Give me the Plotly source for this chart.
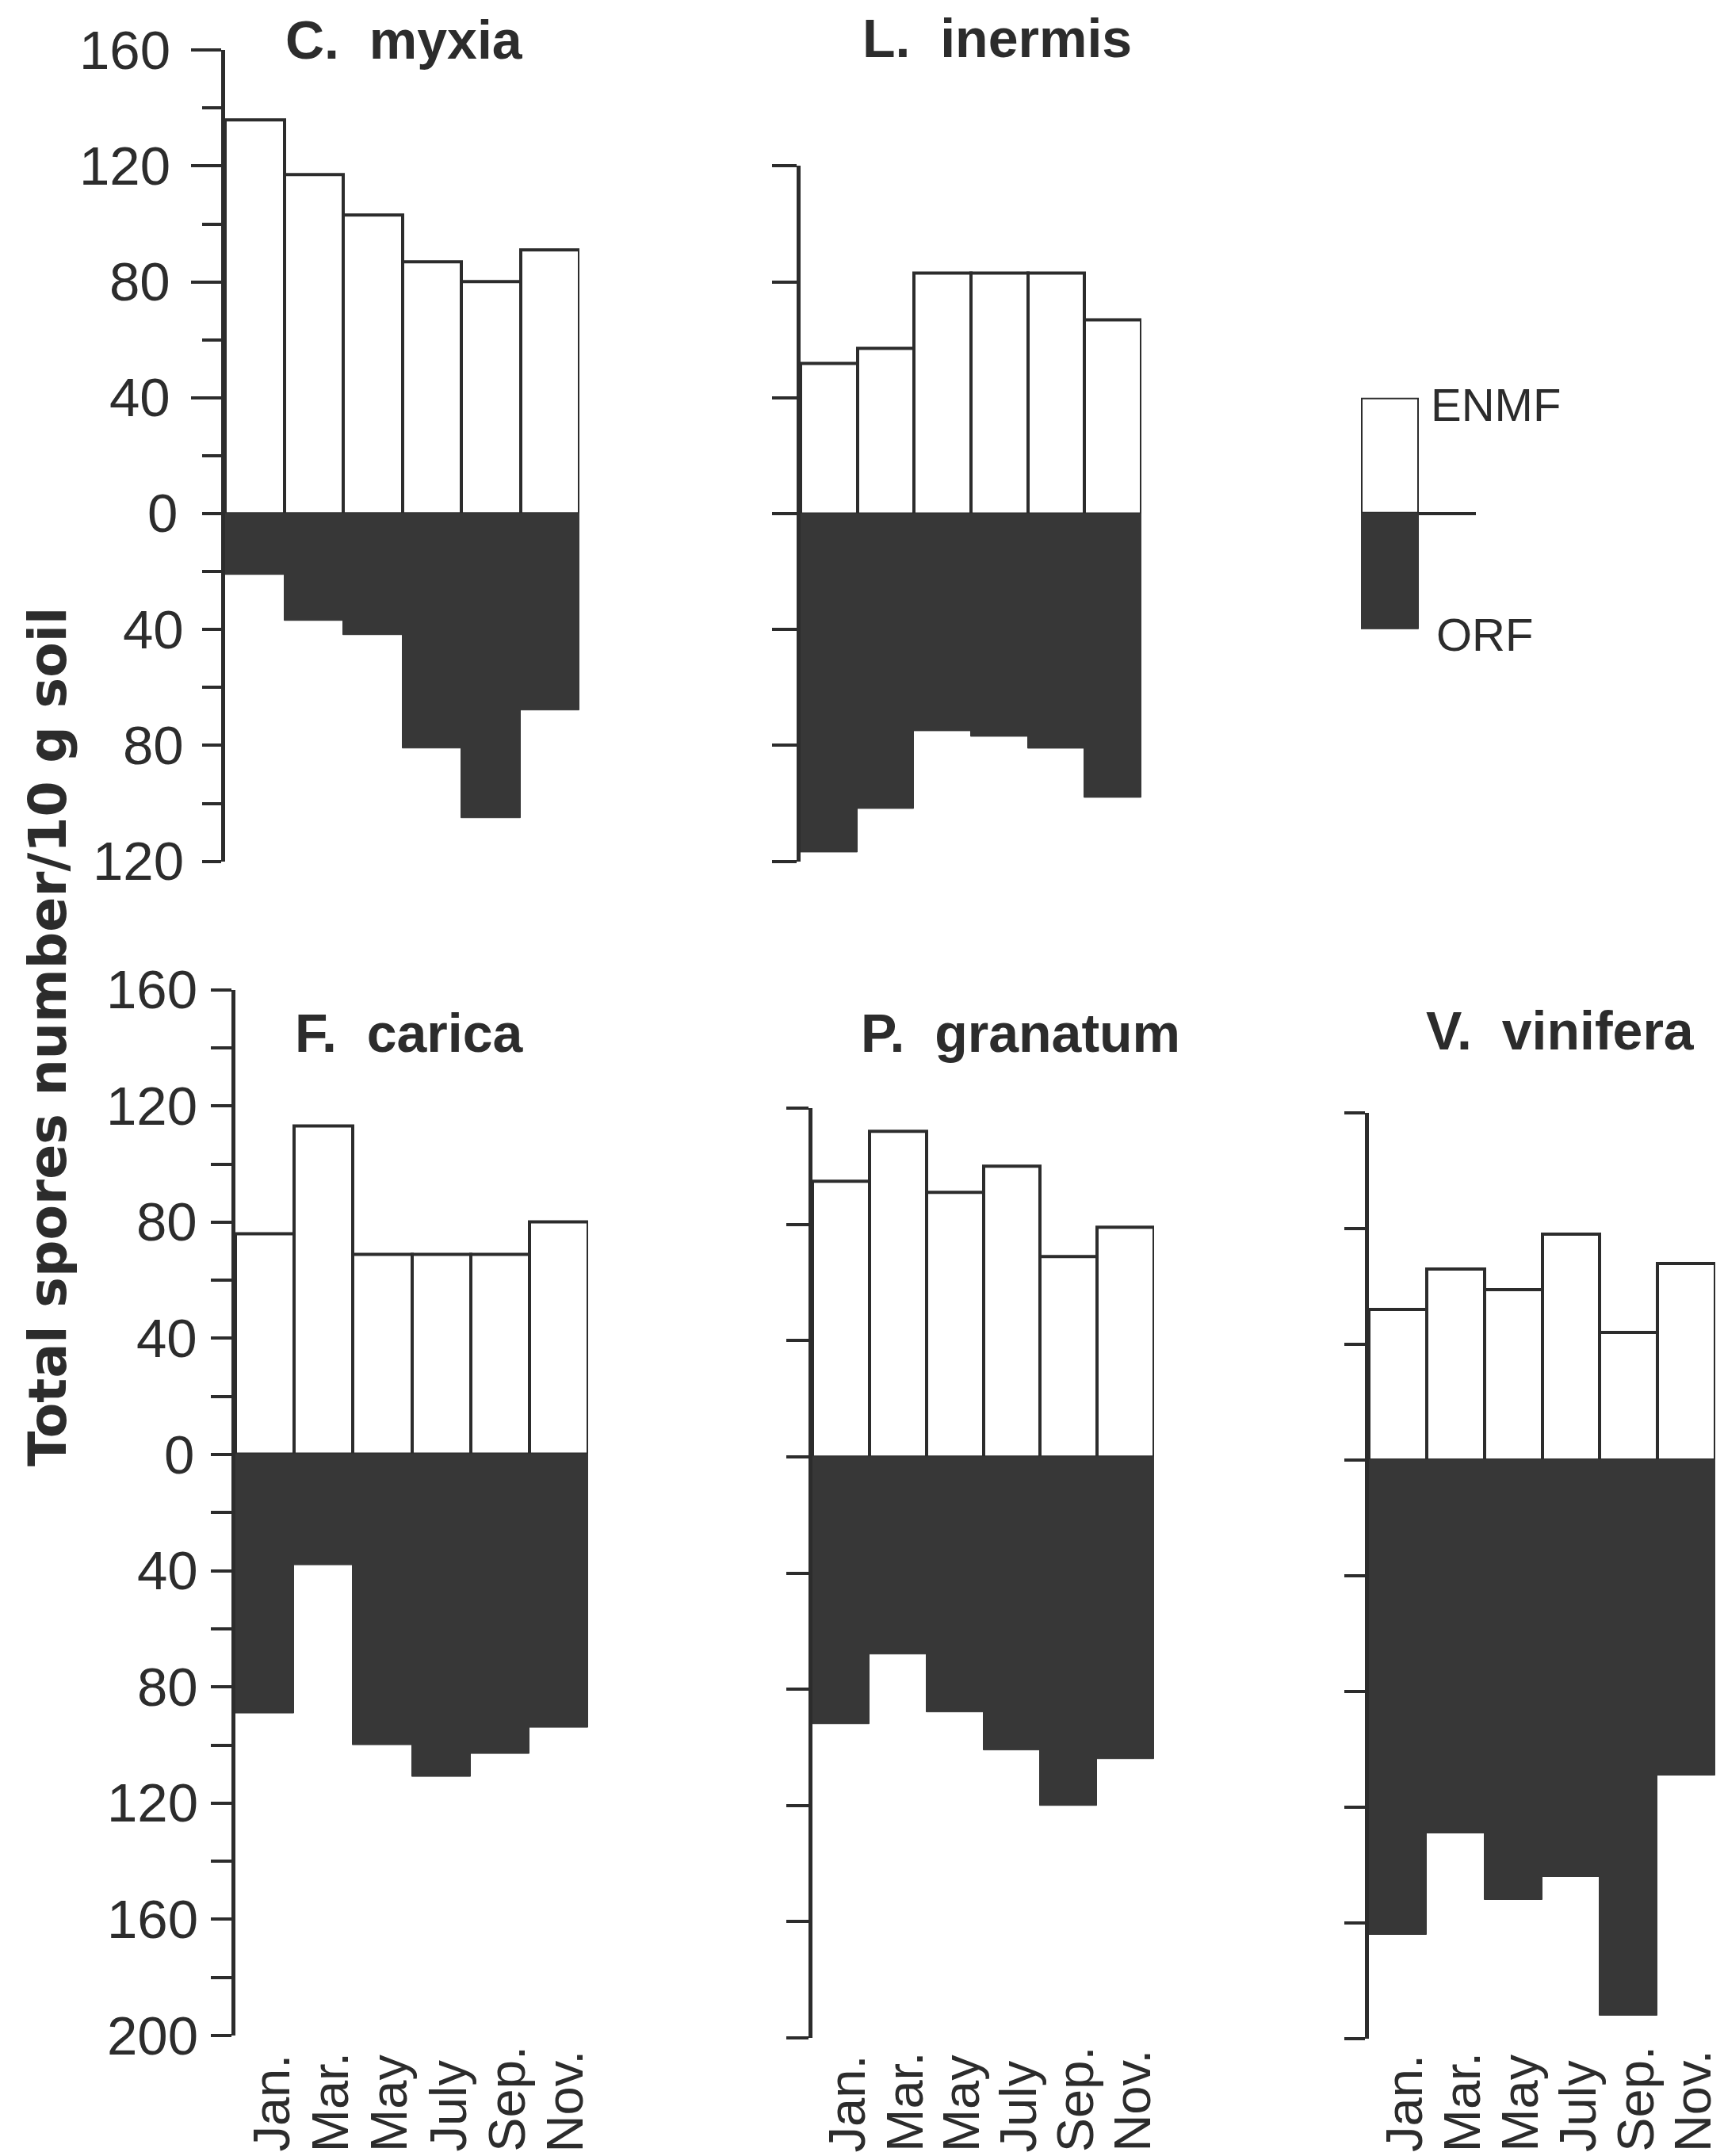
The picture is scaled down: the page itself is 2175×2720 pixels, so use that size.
import plotly.graph_objects as go

W, H = 2175, 2720

# ---------------- data ----------------
MONTHS = ["Jan.", "Mar.", "May", "July", "Sep.", "Nov."]
SPECIES = ["C. myxia", "L. inermis", "F. carica", "P. granatum", "V. vinifera"]

ENMF_C_MYXIA = [136, 117, 103, 87, 80, 91]
ORF_C_MYXIA = [21, 37, 42, 81, 105, 68]

ENMF_L_INERMIS = [52, 57, 83, 83, 83, 67]
ORF_L_INERMIS = [117, 102, 75, 77, 81, 98]

ENMF_F_CARICA = [76, 113, 69, 69, 69, 80]
ORF_F_CARICA = [89, 38, 100, 111, 103, 94]

ENMF_P_GRANATUM = [95, 112, 91, 100, 69, 79]
ORF_P_GRANATUM = [92, 68, 88, 101, 120, 104]

ENMF_V_VINIFERA = [52, 66, 59, 78, 44, 68]
ORF_V_VINIFERA = [164, 129, 152, 144, 192, 109]

LEGEND_LABELS = ["ENMF", "ORF"]
Y_TITLE = "Total spores number/10 g soil"

# ---------------- style ----------------
INK = "#2c2c2c"
FILL = "#373737"
NUM_FONT = "Liberation Sans, Arial, sans-serif"
TITLE_FONT = "Liberation Sans, Arial, sans-serif"


def fx(px):
    return px / W


def fy(py):
    return 1 - py / H


# layout of each panel (pixel geometry)
panels = [
    dict(title=SPECIES[0], enmf=ENMF_C_MYXIA, orf=ORF_C_MYXIA, x0=284, x1=731,
         yzero=648, scale=3.655, ymin=-120, ymax=160,
         long_ticks=[40, 80, 120, 160], long_len=38, short_len=24,
         labels=True, lab_pos=217, lab_zero=226, lab_neg=234,
         tx=510, ty=50, months=False),
    dict(title=SPECIES[1], enmf=ENMF_L_INERMIS, orf=ORF_L_INERMIS, x0=1010, x1=1440,
         yzero=648, scale=3.655, ymin=-120, ymax=120,
         long_ticks=None, long_len=31, short_len=0,
         labels=False, tx=1258, ty=48, months=False),
    dict(title=SPECIES[2], enmf=ENMF_F_CARICA, orf=ORF_F_CARICA, x0=297, x1=742,
         yzero=1835, scale=3.665, ymin=-200, ymax=160,
         long_ticks="all20", long_len=26, short_len=0,
         labels=True, lab_pos=251, lab_zero=247, lab_neg=252,
         tx=516, ty=1303, months=True),
    dict(title=SPECIES[3], enmf=ENMF_P_GRANATUM, orf=ORF_P_GRANATUM, x0=1025, x1=1456,
         yzero=1838, scale=3.665, ymin=-200, ymax=120,
         long_ticks=None, long_len=28, short_len=0,
         labels=False, tx=1287, ty=1303, months=True),
    dict(title=SPECIES[4], enmf=ENMF_V_VINIFERA, orf=ORF_V_VINIFERA, x0=1727, x1=2164,
         yzero=1842, scale=3.65, ymin=-200, ymax=120,
         long_ticks=None, long_len=26, short_len=0,
         labels=False, tx=1968, ty=1300, months=True),
]

fig = go.Figure()
annotations = []
layout = {}

for i, p in enumerate(panels, start=1):
    xa = "x" if i == 1 else f"x{i}"
    ya = "y" if i == 1 else f"y{i}"
    xk = "xaxis" if i == 1 else f"xaxis{i}"
    yk = "yaxis" if i == 1 else f"yaxis{i}"

    fig.add_trace(go.Bar(x=MONTHS, y=p["enmf"], xaxis=xa, yaxis=ya,
                         marker=dict(color="white", line=dict(color=INK, width=4)),
                         width=1, showlegend=False, hoverinfo="skip"))
    fig.add_trace(go.Bar(x=MONTHS, y=[-v for v in p["orf"]], xaxis=xa, yaxis=ya,
                         marker=dict(color=FILL, line=dict(color=FILL, width=1)),
                         width=1, showlegend=False, hoverinfo="skip"))

    top = p["yzero"] - p["ymax"] * p["scale"]
    bot = p["yzero"] - p["ymin"] * p["scale"]
    step40 = list(range(p["ymin"], p["ymax"] + 1, 40))
    step20 = list(range(p["ymin"], p["ymax"] + 1, 20))
    if p["long_ticks"] is None:
        major, minor = step40, []
    elif p["long_ticks"] == "all20":
        major, minor = step20, []
    else:
        major = p["long_ticks"]
        minor = [v for v in step20 if v not in major]

    yaxis = dict(
        domain=[fy(bot), fy(top)], range=[p["ymin"], p["ymax"]], anchor=xa,
        automargin=False,
        showline=True, linecolor=INK, linewidth=5, showgrid=False, zeroline=False,
        ticks="outside", ticklen=p["long_len"], tickwidth=4, tickcolor=INK,
        tickmode="array", tickvals=major, showticklabels=False,
    )
    if minor:
        yaxis["minor"] = dict(tickmode="array", tickvals=minor,
                              ticks="outside", ticklen=p["short_len"], tickwidth=4,
                              tickcolor=INK, showgrid=False)
    layout[yk] = yaxis
    layout[xk] = dict(domain=[fx(p["x0"]), fx(p["x1"])], range=[-0.5, 5.5], anchor=ya,
                      automargin=False, type="category", showline=False, showgrid=False,
                      zeroline=False, ticks="", showticklabels=False)

    # tick labels (absolute values, as in the original)
    if p["labels"]:
        for v in step40:
            xr = p["lab_pos"] if v > 0 else (p["lab_zero"] if v == 0 else p["lab_neg"])
            annotations.append(dict(text=str(abs(v)), x=fx(xr), y=v, xref="paper", yref=ya,
                                    xanchor="right", yanchor="middle", showarrow=False,
                                    font=dict(family=NUM_FONT, size=69, color=INK)))

    annotations.append(dict(text="<b>" + p["title"].replace(" ", "\u00a0\u00a0") + "</b>",
                            x=fx(p["tx"]), y=fy(p["ty"]), xref="paper", yref="paper",
                            xanchor="center", yanchor="middle", showarrow=False,
                            font=dict(family=TITLE_FONT, size=68, color=INK)))
    if p["months"]:
        for m in MONTHS:
            annotations.append(dict(text=m, x=m, xref=xa, y=fy(2717), yref="paper",
                                    textangle=-90, xanchor="center", yanchor="bottom",
                                    xshift=8, showarrow=False,
                                    font=dict(family=NUM_FONT, size=65, color=INK)))

# ---------------- legend (drawn as a small bar key) ----------------
lx0, lx1 = 1717, 1790
lyz, lsc = 648, 3.655
fig.add_trace(go.Bar(x=[LEGEND_LABELS[0]], y=[1], xaxis="x6", yaxis="y6", width=1,
                     marker=dict(color="white", line=dict(color=INK, width=4)),
                     showlegend=False, hoverinfo="skip"))
fig.add_trace(go.Bar(x=[LEGEND_LABELS[0]], y=[-1], xaxis="x6", yaxis="y6", width=1,
                     marker=dict(color=FILL, line=dict(color=FILL, width=1)),
                     showlegend=False, hoverinfo="skip"))
layout["xaxis6"] = dict(domain=[fx(lx0), fx(lx1)], range=[-0.5, 0.5], anchor="y6",
                        type="category", visible=False, automargin=False)
layout["yaxis6"] = dict(domain=[fy(lyz + 40 * lsc), fy(lyz - 40 * lsc)], range=[-1, 1],
                        anchor="x6", visible=False, automargin=False)
shapes = [dict(type="line", xref="x6 domain", yref="y6", x0=1, x1=1 + 72 / (lx1 - lx0),
               y0=0, y1=0, line=dict(color=INK, width=4))]
annotations.append(dict(text=LEGEND_LABELS[0], x=fx(1803), y=fy(510), xref="paper", yref="paper",
                        xanchor="left", yanchor="middle", showarrow=False,
                        font=dict(family=NUM_FONT, size=58, color=INK)))
annotations.append(dict(text=LEGEND_LABELS[1], x=fx(1810), y=fy(800), xref="paper", yref="paper",
                        xanchor="left", yanchor="middle", showarrow=False,
                        font=dict(family=NUM_FONT, size=58, color=INK)))

# ---------------- y-axis title ----------------
annotations.append(dict(text="<b>" + Y_TITLE + "</b>", x=fx(60), y=fy(1308), xref="paper", yref="paper",
                        textangle=-90, xanchor="center", yanchor="middle", showarrow=False,
                        font=dict(family="DejaVu Sans, sans-serif", size=65, color=INK)))

fig.update_layout(
    width=W, height=H, margin=dict(l=0, r=0, t=0, b=0, autoexpand=False),
    paper_bgcolor="white", plot_bgcolor="rgba(0,0,0,0)",
    barmode="relative", bargap=0, showlegend=False,
    annotations=annotations, shapes=shapes, **layout,
)

fig.write_html("out.html", post_script="document.body.style.margin='0';",
               config={"displayModeBar": False})
